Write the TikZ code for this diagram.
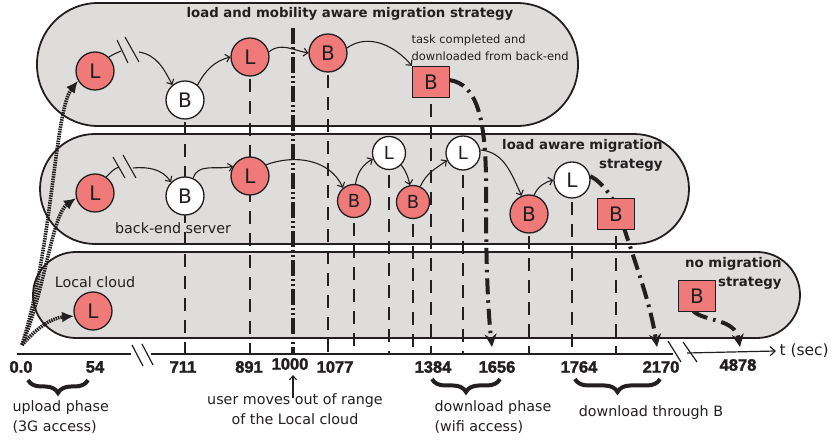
\documentclass[tikz,border=0pt]{standalone}
\usepackage{fontspec}
\setmainfont{DejaVu Sans}
\newfontfamily\numfont[FakeBold=2]{Liberation Sans}
\usetikzlibrary{arrows.meta,decorations.pathreplacing,calc}
\definecolor{panelgray}{RGB}{222,221,220}
\definecolor{ink}{RGB}{35,31,32}
\definecolor{nodered}{RGB}{240,122,122}
\begin{document}
\begin{tikzpicture}[x=1pt,y=1pt,
 panel/.style={draw=ink, line width=1.8pt, fill=panelgray},
 lnode/.style={circle, draw=ink, line width=1.3pt, inner sep=0pt, minimum size=38pt, font=\fontsize{20}{20}\selectfont, text=ink},
 rednode/.style={lnode, fill=nodered},
 whitenode/.style={lnode, fill=white},
 small/.style={minimum size=33pt, font=\fontsize{18}{18}\selectfont},
 sqnode/.style={rectangle, draw=ink, line width=1.3pt, fill=nodered, inner sep=0pt, minimum width=37pt, minimum height=31pt, font=\fontsize{20}{20}\selectfont, text=ink},
 vline/.style={draw=ink, line width=1.2pt, dash pattern=on 13pt off 9pt},
 conn/.style={draw=ink, line width=1.1pt},
 arr/.style={conn, -{Straight Barb[length=4pt,width=8pt]}},
 bigmig/.style={draw=ink, line width=4pt, dash pattern=on 16pt off 6pt on 2.5pt off 6pt, -{Stealth[length=13pt,width=12pt]}},
 upl/.style={draw=ink, line width=3.6pt, dash pattern=on 1.5pt off 0.9pt, -{Latex[length=12pt,width=11pt]}},
 userline/.style={draw=ink, line width=3.2pt, dash pattern=on 16pt off 3pt on 2pt off 3pt on 2pt off 3pt},
 axisline/.style={draw=ink, line width=1.2pt},
 lbl/.style={font=\fontsize{14.3}{20.5}\selectfont, text=ink},
 blbl/.style={font=\bfseries\fontsize{13.3}{19}\selectfont, text=ink},
 num/.style={font=\numfont\bfseries\fontsize{16.5}{16}\selectfont, text=ink},
 brc/.style={draw=ink, line width=4pt, decorate, decoration={brace, mirror, amplitude=13pt}},
]
\useasboundingbox (0,0) rectangle (831,-443);

% panels
\draw[panel, rounded corners=61pt] (37,-3) rectangle (578,-126);
\draw[panel, rounded corners=55pt] (40,-134) rectangle (689,-244);
\draw[panel, rounded corners=43pt] (33,-252) rectangle (800,-338);

% node positions
\coordinate (axy) at (0,-354);
\coordinate (ptL1) at (95,-71);
\coordinate (ptB1) at (185,-100);
\coordinate (ptL2) at (250,-57);
\coordinate (ptB2) at (328,-53);
\coordinate (ptS) at (431,-82);
\coordinate (pmL1) at (95,-193);
\coordinate (pmB1) at (185,-196);
\coordinate (pmL2) at (250,-176);
\coordinate (pmB2) at (354,-201);
\coordinate (pmL3) at (389,-153);
\coordinate (pmB3) at (413,-202);
\coordinate (pmL4) at (463,-153);
\coordinate (pmB4) at (529,-214);
\coordinate (pmL5) at (572,-180);
\coordinate (pmS) at (616,-214);
\coordinate (pbL1) at (93,-311);
\coordinate (pbS) at (697,-296);

% vertical guide lines
\foreach \p in {ptB1,ptL2,ptB2,ptS,pmB2,pmL3,pmB3,pmL4,pmB4,pmL5,pmS}
  \draw[vline] (\p) -- (\p |- axy);
\coordinate (uTop) at (293,-28);
\draw[userline] (uTop) -- (uTop |- axy);

% axis
\draw[axisline] (17,-354) -- (131,-354);
\draw[axisline] (132,-345) -- (143,-366);
\draw[axisline] (142,-344) -- (153,-365);
\draw[axisline] (151,-354) -- (673,-354);
\draw[axisline] (668,-341) -- (681,-362);
\draw[axisline] (683,-342) -- (697,-362);
\node[lbl, anchor=west, font=\fontsize{15.5}{16}\selectfont] (tsec) at (776,-351) {t (sec)};
\coordinate (axstart) at (687,-353);
\draw[axisline, -{Straight Barb[length=5pt,width=9pt]}] (axstart) -- (tsec.west);

% nodes: top row
\node[rednode] (tL1) at (ptL1) {L};
\node[whitenode] (tB1) at (ptB1) {B};
\node[rednode] (tL2) at (ptL2) {L};
\node[rednode] (tB2) at (ptB2) {B};
% middle row
\node[rednode] (mL1) at (pmL1) {L};
\node[whitenode] (mB1) at (pmB1) {B};
\node[rednode] (mL2) at (pmL2) {L};
\node[rednode, small] (mB2) at (pmB2) {B};
\node[whitenode, small] (mL3) at (pmL3) {L};
\node[rednode, small] (mB3) at (pmB3) {B};
\node[whitenode, small, minimum size=34pt] (mL4) at (pmL4) {L};
\node[rednode] (mB4) at (pmB4) {B};
\node[whitenode, minimum size=36pt] (mL5) at (pmL5) {L};
% bottom row
\node[rednode] (bL1) at (pbL1) {L};

% thick download arrows (behind squares)
\draw[bigmig] (ptS) ++(18,2) .. controls (478,-84) and (487,-120) .. (486,-200) .. controls (486,-280) and (489,-320) .. (492,-347);
\draw[bigmig] (mL5.12) .. controls (602,-182) and (614,-198) .. (620,-215) .. controls (632,-255) and (650,-300) .. (657,-347);
\draw[bigmig] (pbS) ++(-4,-15) .. controls (705,-322) and (735,-318) .. (740,-347);

% squares
\node[sqnode] (tS) at (ptS) {B};
\node[sqnode] (mS) at (pmS) {B};
\node[sqnode] (bS) at (pbS) {B};

% top connectors
\coordinate (tbA) at (121,-51);
\coordinate (tbB) at (139,-52);
\draw[conn] (tL1.45) to[out=35,in=205] (tbA);
\draw[conn] (117,-40) -- (128,-63);
\draw[conn] (125,-37) -- (139,-62);
\draw[arr] (tbB) to[out=-10,in=118] (tB1.130);
\draw[arr] (tB1.50) to[out=62,in=195] (tL2.west);
\draw[arr] (tL2.15) to[out=40,in=170] (tB2.west);
\draw[arr] (tB2.15) to[out=35,in=130] (tS.north west);

% middle connectors
\coordinate (mbA) at (119,-167);
\coordinate (mbB) at (133,-168);
\draw[conn] (mL1.55) to[out=45,in=200] (mbA);
\draw[conn] (113,-157) -- (125,-178);
\draw[conn] (123,-155) -- (136,-178);
\draw[arr] (mbB) to[out=5,in=125] (mB1.135);
\draw[arr] (mB1.65) to[out=75,in=195] (mL2.150);
\draw[arr] (mL2.35) to[out=20,in=115] (mB2.130);
\draw[arr] (mB2.85) to[out=80,in=210] (mL3.200);
\draw[arr] (mL3.-45) to[out=-50,in=105] (mB3.100);
\draw[arr] (mB3.65) to[out=65,in=215] (mL4.205);
\draw[arr] (mL4.10) to[out=-5,in=115] (mB4.112);
\draw[arr] (mB4.75) to[out=65,in=195] (mL5.west);

% upload dotted arrows
\coordinate (orig) at (22,-345);
\draw[upl] (orig) .. controls (35,-330) and (50,-318) .. (bL1.195);
\draw[upl] (orig) .. controls (45,-290) and (52,-215) .. (mL1.195);
\draw[upl] (orig) .. controls (52,-250) and (55,-110) .. (tL1.210);

% labels
\node[blbl] (title1) at (350,-14) {load and mobility aware migration strategy};
\node[font=\fontsize{11.5}{17}\selectfont, text=ink, anchor=west, align=left] (taskdone) at (408,-47.5) {task completed and\\downloaded from back-end};
\node[blbl, anchor=east, align=right] (title2) at (666,-155.5) {load aware migration\\strategy};
\node[lbl] (besrv) at (173,-228) {back-end server};
\node[lbl] (lcloud) at (95,-282) {Local cloud};
\node[blbl, anchor=east, align=right] (title3) at (785,-273) {no migration\\strategy};

% tick numbers
\node[num] (n0) at (21,-367) {0.0};
\node[num] (n54) at (95,-367) {54};
\node[num] (n711) at (183,-367) {711};
\node[num] (n891) at (249,-367) {891};
\node[num] (n1000) at (290,-364) {1000};
\node[num] (n1077) at (335,-367) {1077};
\node[num] (n1384) at (433,-367) {1384};
\node[num] (n1656) at (497,-367) {1656};
\node[num] (n1764) at (579,-367) {1764};
\node[num] (n2170) at (661,-367) {2170};
\node[num] (n4878) at (738,-365) {4878};

% braces
\draw[brc] (28,-380) -- (88,-380);
\draw[brc] (432,-379) -- (500,-379);
\draw[brc] (575,-379) -- (660,-379);

\node[lbl, anchor=west, align=left] (upl1) at (9,-417) {upload phase\\(3G access)};
\node[lbl, anchor=west, align=left] (dl1) at (431,-417) {download phase\\(wifi access)};
\node[lbl] (dl2) at (651,-413) {download through B};
\node[lbl, align=center] (um) at (295,-409) {user moves out of range\\of the Local cloud};
\coordinate (umtip) at (293,-375);
\coordinate (umbase) at (293,-398);
\draw[conn, -{Straight Barb[length=4pt,width=7pt]}] (umbase) -- (umtip);

\end{tikzpicture}
\end{document}
